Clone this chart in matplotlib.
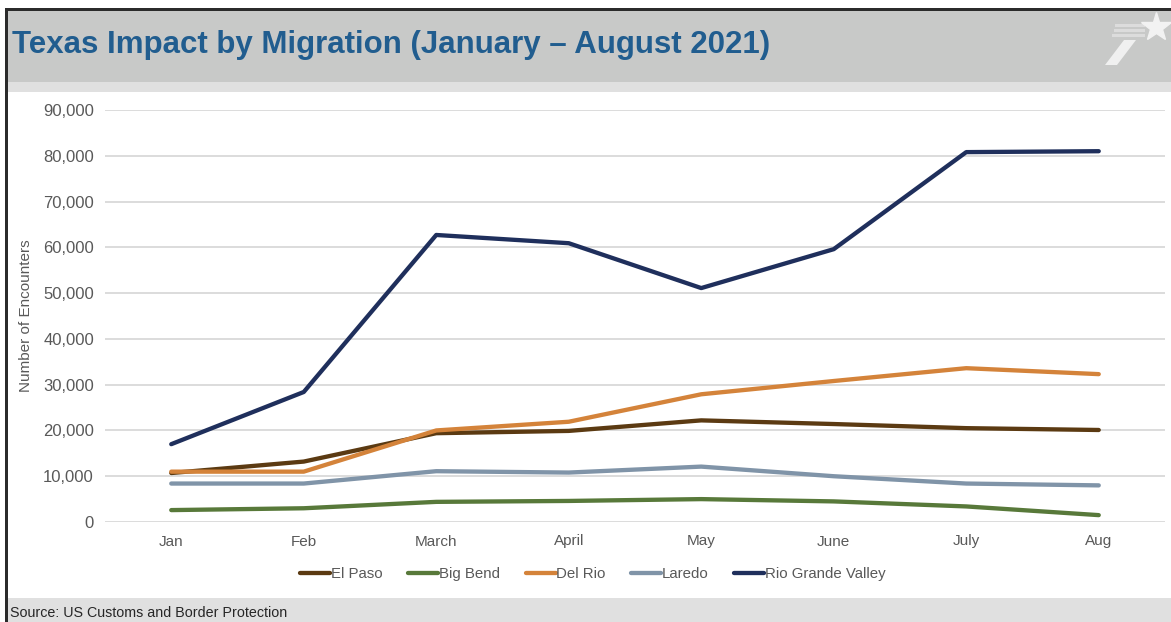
import matplotlib.pyplot as plt
from matplotlib.patches import Rectangle, Polygon

months = ["Jan", "Feb", "March", "April", "May", "June", "July", "Aug"]

el_paso = [10700, 13200, 19400, 19900, 22200, 21400, 20500, 20100]
big_bend = [2600, 3000, 4400, 4600, 5000, 4500, 3400, 1500]
del_rio = [11000, 11000, 20000, 21900, 27900, 30800, 33600, 32300]
laredo = [8400, 8400, 11100, 10800, 12100, 10000, 8400, 8000]
rio_grande = [17000, 28400, 62700, 60900, 51100, 59600, 80800, 81000]

series = [
    ("El Paso", el_paso, "#5b3a12"),
    ("Big Bend", big_bend, "#58793a"),
    ("Del Rio", del_rio, "#d4833a"),
    ("Laredo", laredo, "#8094a8"),
    ("Rio Grande Valley", rio_grande, "#1f2f5c"),
]

plt.rcParams["font.family"] = ["Liberation Sans", "DejaVu Sans"]

W, H = 1171, 622
fig = plt.figure(figsize=(W / 100, H / 100), dpi=100)
fig.patch.set_facecolor("white")


def box(x0, y0, x1, y1, color):
    # pixel box (top-left origin) -> figure coords
    fig.patches.append(Rectangle((x0 / W, 1 - y1 / H), (x1 - x0) / W, (y1 - y0) / H,
                                 transform=fig.transFigure, facecolor=color,
                                 edgecolor="none", zorder=0))


# header / footer bands and frame
box(6, 9, W, 82, "#c8c9c8")
box(6, 82, W, 92, "#e0e0e0")
box(6, 598, W, H, "#e0e0e0")
box(5, 8, W, 11, "#2b2b2b")
box(5, 8, 8, H, "#2b2b2b")

# logo in the corner
fig.lines.append(plt.Line2D([1156 / W], [1 - 27 / H], marker="*", markersize=22,
                            color="#f2f2f2", transform=fig.transFigure))
fig.patches.append(Polygon([(1124 / W, 1 - 40 / H), (1136 / W, 1 - 40 / H),
                            (1117 / W, 1 - 65 / H), (1105 / W, 1 - 65 / H)],
                           closed=True, transform=fig.transFigure,
                           facecolor="#f0f0f0", edgecolor="none"))
for yy in (25, 30, 35):
    box(1112 + (35 - yy) * 0.3, yy - 1.5, 1145, yy + 1.5, "#dcdcdc")

fig.text(12 / W, 1 - 45 / H, "Texas Impact by Migration (January \u2013 August 2021)",
         fontsize=22.5, fontweight="bold", color="#215d8f",
         va="center", ha="left")

ax = fig.add_axes([105 / W, 1 - 522 / H, 1060 / W, 412 / H])
ax.set_facecolor("none")
x = list(range(len(months)))
for name, vals, col in series:
    ax.plot(x, vals, color=col, lw=3.1, label=name, solid_capstyle="round",
            solid_joinstyle="round")

ax.set_xlim(-0.5, 7.5)
ax.set_ylim(0, 90000)
ax.set_yticks(range(0, 90001, 10000))
ax.set_yticklabels([f"{v:,}" for v in range(0, 90001, 10000)])
ax.set_xticks(x)
ax.set_xticklabels(months)
ax.grid(axis="y", color="#d9d9d9", lw=1.3)
ax.set_axisbelow(True)
for s in ax.spines.values():
    s.set_visible(False)
ax.tick_params(length=0, labelcolor="#595959")
ax.tick_params(axis="y", pad=8, labelsize=12)
ax.tick_params(axis="x", pad=9, labelsize=11)
ax.set_ylabel("Number of Encounters", fontsize=11, color="#595959", labelpad=7)

leg = fig.legend(loc="center", bbox_to_anchor=(593 / W, 1 - 574 / H), ncol=5,
                 frameon=False, handlelength=2.0, handletextpad=0.05,
                 columnspacing=1.7, prop={"size": 10.8})
for t in leg.get_texts():
    t.set_color("#595959")

fig.text(10 / W, 1 - 613 / H, "Source: US Customs and Border Protection",
         fontsize=10.3, color="#262626", va="center", ha="left")

fig.savefig("out.png", dpi=100)
